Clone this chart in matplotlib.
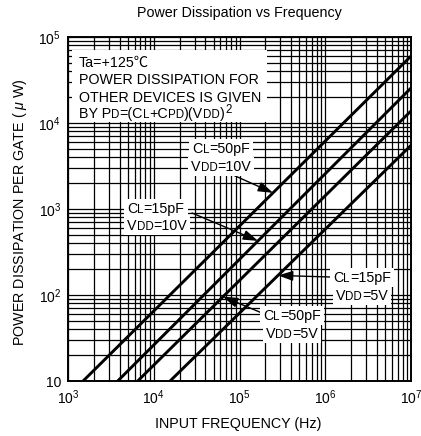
import matplotlib
matplotlib.use('Agg')
import matplotlib.pyplot as plt
import numpy as np
from matplotlib.patches import Rectangle
from matplotlib.ticker import LogLocator, NullFormatter

plt.rcParams['font.family'] = ['Liberation Sans', 'Noto Sans CJK SC', 'DejaVu Sans']
plt.rcParams['mathtext.fontset'] = 'custom'
plt.rcParams['mathtext.rm'] = 'Liberation Sans'
plt.rcParams['mathtext.it'] = 'Liberation Sans:italic'

# ---------------- data ----------------
freq_50pf_10v = [1.5e3, 1e7]
power_50pf_10v = [10, 6.0e4]
freq_15pf_10v = [3.8e3, 1e7]
power_15pf_10v = [10, 2.55e4]
freq_50pf_5v = [6.5e3, 1e7]
power_50pf_5v = [10, 1.38e4]
freq_15pf_5v = [1.55e4, 1e7]
power_15pf_5v = [10, 5.5e3]

x_ticks = [1e3, 1e4, 1e5, 1e6, 1e7]
x_tick_labels = [r'$\mathregular{10^{3}}$', r'$\mathregular{10^{4}}$', r'$\mathregular{10^{5}}$',
                 r'$\mathregular{10^{6}}$', r'$\mathregular{10^{7}}$']
y_ticks = [10, 1e2, 1e3, 1e4, 1e5]
y_tick_labels = ['10', r'$\mathregular{10^{2}}$', r'$\mathregular{10^{3}}$',
                 r'$\mathregular{10^{4}}$', r'$\mathregular{10^{5}}$']

W, H = 421, 436
fig = plt.figure(figsize=(W / 100, H / 100), dpi=100)
AX_L, AX_R, AX_T, AX_B = 68, 411, 37, 381
ax = fig.add_axes([AX_L / W, 1 - AX_B / H, (AX_R - AX_L) / W, (AX_B - AX_T) / H])
renderer = fig.canvas.get_renderer()


def fp(x, y):
    return (x / W, 1 - y / H)


ax.set_xscale('log')
ax.set_yscale('log')
ax.set_xlim(1e3, 1e7)
ax.set_ylim(10, 1e5)
ax.xaxis.set_minor_locator(LogLocator(base=10, subs=range(2, 10)))
ax.yaxis.set_minor_locator(LogLocator(base=10, subs=range(2, 10)))
ax.xaxis.set_minor_formatter(NullFormatter())
ax.yaxis.set_minor_formatter(NullFormatter())
ax.set_xticks(x_ticks)
ax.set_xticklabels(x_tick_labels)
ax.set_yticks(y_ticks)
ax.set_yticklabels(y_tick_labels)
ax.tick_params(which='both', length=0, labelsize=10)
ax.tick_params(axis='x', pad=5)
ax.tick_params(axis='y', pad=5)
ax.set_axisbelow(True)
ax.grid(which='both', color='black', lw=0.9)
for s in ax.spines.values():
    s.set_linewidth(1.4)

series = [
    (freq_50pf_10v, power_50pf_10v),
    (freq_15pf_10v, power_15pf_10v),
    (freq_50pf_5v, power_50pf_5v),
    (freq_15pf_5v, power_15pf_5v),
]
for fs, ps in series:
    ax.plot(fs, ps, color='black', lw=2.1, zorder=2, solid_capstyle='butt')

FS = 10.3
SM = 8.3


def rich(x, y, pieces, ha='left', box=False):
    """pieces: list of (text, fontsize, raise_px); y is baseline in px from top."""
    widths = []
    for txt, size, dy in pieces:
        t = fig.text(0, 0, txt, fontsize=size)
        widths.append(t.get_window_extent(renderer).width)
        t.remove()
    total = sum(widths)
    x0 = x - total / 2 if ha == 'center' else x
    if box:
        fig.patches.append(Rectangle(fp(x0 - 3, y + 5), (total + 6) / W, 19 / H,
                                     transform=fig.transFigure, facecolor='white',
                                     edgecolor='none', zorder=2.5))
    cx = x0
    for (txt, size, dy), w in zip(pieces, widths):
        fig.text(*fp(cx, y - dy), txt, fontsize=size, ha='left', va='baseline', zorder=3)
        cx += w


# top-left note box
fig.patches.append(Rectangle(fp(72, 122), (267 - 72) / W, (122 - 50) / H, transform=fig.transFigure,
                             facecolor='white', edgecolor='none', zorder=1.5))
rich(79, 67, [('Ta=+125\u2103', FS, 0)])
rich(79, 84.5, [('POWER DISSIPATION FOR', FS, 0)])
rich(79, 101.5, [('OTHER DEVICES IS GIVEN', FS, 0)])
rich(79, 118, [('BY P', FS, 0), ('D', SM, 0), ('=(C', FS, 0), ('L', SM, 0), ('+C', FS, 0),
               ('PD', SM, 0), (')(V', FS, 0), ('DD', SM, 0), (')', FS, 0), ('2', SM, 5)])


def cl(val):
    return [('C', FS, 0), ('L', SM, 0), ('=' + val, FS, 0)]


def vdd(val):
    return [('V', FS, 0), ('DD', SM, 0), ('=' + val, FS, 0)]


labels = [
    (221, 153, cl('50pF'), 'center'),
    (221, 171, vdd('10V'), 'center'),
    (127, 213, cl('15pF'), 'left'),
    (127, 230, vdd('10V'), 'left'),
    (362, 282, cl('15pF'), 'center'),
    (362, 300, vdd('5V'), 'center'),
    (292, 320, cl('50pF'), 'center'),
    (292, 338, vdd('5V'), 'center'),
]
for x, y, pcs, ha in labels:
    rich(x, y, pcs, ha=ha, box=True)


def on_line(fs, ps, f):
    return 10 ** np.interp(np.log10(f), np.log10(fs), np.log10(ps))


def px_to_freq(x):
    return 10 ** (3 + 4 * (x - AX_L) / (AX_R - AX_L))


arrows = [
    ((233, 175), 273, series[0]),
    ((192, 213), 258, series[1]),
    ((262, 313), 223, series[2]),
    ((330, 277), 278, series[3]),
]
for start, tipx, (fs, ps) in arrows:
    f = px_to_freq(tipx)
    ax.annotate('', xy=(f, on_line(fs, ps, f)), xycoords='data',
                xytext=fp(*start), textcoords='figure fraction',
                arrowprops=dict(arrowstyle='-|>,head_length=0.9,head_width=0.3',
                                color='black', lw=1.0, shrinkA=0, shrinkB=0,
                                mutation_scale=10), zorder=4)

fig.text(*fp(239.5, 12.5), 'Power Dissipation vs Frequency', ha='center', va='center', fontsize=FS)
fig.text(*fp(238, 424), 'INPUT FREQUENCY (Hz)', ha='center', va='center', fontsize=FS)
fig.text(*fp(20, 212), r'POWER DISSIPATION PER GATE ( $\mu$ W)', ha='center', va='center',
         rotation=90, fontsize=FS)

fig.savefig('out.png', dpi=100)
